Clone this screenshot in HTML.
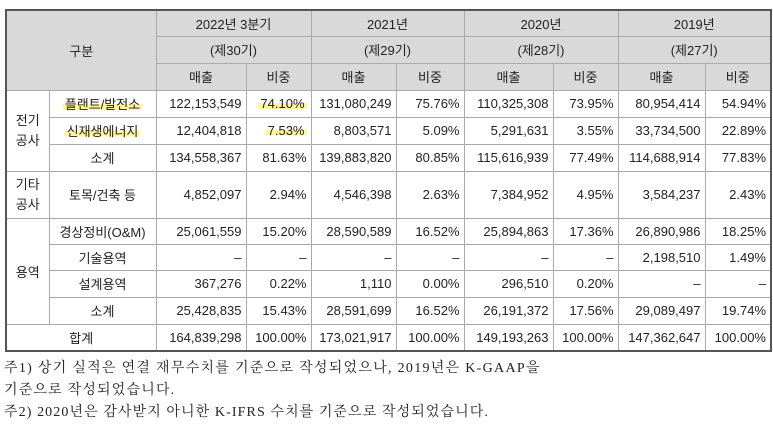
<!DOCTYPE html>
<html><head><meta charset="utf-8"><style>
body{margin:0;background:#fff;width:773px;height:424px;overflow:hidden;font-family:"Liberation Sans","Noto Sans CJK KR",sans-serif;}
table{position:absolute;left:5px;top:9px;border-collapse:collapse;table-layout:fixed;font-size:13px;color:#222;}
td{border:1px solid #aaa;padding:0 4px;white-space:nowrap;overflow:hidden;}
table{border:2px solid #555;}
.h td{background:#d9d9d9;text-align:center;}
.c{text-align:center}.r{text-align:right}
.hl{background:linear-gradient(transparent 45%,#fff59a 45%,#fff59a 85%,transparent 85%);padding:0 2px;}
.note{position:absolute;left:4px;font-family:"Liberation Serif","Noto Serif CJK KR","Noto Serif CJK SC",serif;font-size:14px;color:#222;letter-spacing:1.2px;white-space:nowrap;}
</style></head><body>
<table>
<colgroup><col style="width:43px"><col style="width:107px"><col style="width:90px"><col style="width:65px"><col style="width:85px"><col style="width:68px"><col style="width:89px"><col style="width:65px"><col style="width:87px"><col style="width:66px"></colgroup>
<tr class="h" style="height:26px"><td colspan="2" rowspan="3">구분</td><td colspan="2">2022년 3분기</td><td colspan="2">2021년</td><td colspan="2">2020년</td><td colspan="2">2019년</td></tr>
<tr class="h" style="height:27px"><td colspan="2">(제30기)</td><td colspan="2">(제29기)</td><td colspan="2">(제28기)</td><td colspan="2">(제27기)</td></tr>
<tr class="h" style="height:27px"><td>매출</td><td>비중</td><td>매출</td><td>비중</td><td>매출</td><td>비중</td><td>매출</td><td>비중</td></tr>
<tr style="height:27px"><td rowspan="3" class="c" style="line-height:20px">전기<br>공사</td><td class="c"><span class="hl">플랜트/발전소</span></td><td class="r">122,153,549</td><td class="r"><span class="hl">74.10%</span></td><td class="r">131,080,249</td><td class="r">75.76%</td><td class="r">110,325,308</td><td class="r">73.95%</td><td class="r">80,954,414</td><td class="r">54.94%</td></tr>
<tr style="height:27px"><td class="c"><span class="hl">신재생에너지</span></td><td class="r">12,404,818</td><td class="r"><span class="hl">7.53%</span></td><td class="r">8,803,571</td><td class="r">5.09%</td><td class="r">5,291,631</td><td class="r">3.55%</td><td class="r">33,734,500</td><td class="r">22.89%</td></tr>
<tr style="height:27px"><td class="c">소계</td><td class="r">134,558,367</td><td class="r">81.63%</td><td class="r">139,883,820</td><td class="r">80.85%</td><td class="r">115,616,939</td><td class="r">77.49%</td><td class="r">114,688,914</td><td class="r">77.83%</td></tr>
<tr style="height:47px"><td class="c" style="line-height:20px">기타<br>공사</td><td class="c">토목/건축 등</td><td class="r">4,852,097</td><td class="r">2.94%</td><td class="r">4,546,398</td><td class="r">2.63%</td><td class="r">7,384,952</td><td class="r">4.95%</td><td class="r">3,584,237</td><td class="r">2.43%</td></tr>
<tr style="height:26px"><td rowspan="4" class="c">용역</td><td class="c">경상정비(O&amp;M)</td><td class="r">25,061,559</td><td class="r">15.20%</td><td class="r">28,590,589</td><td class="r">16.52%</td><td class="r">25,894,863</td><td class="r">17.36%</td><td class="r">26,890,986</td><td class="r">18.25%</td></tr>
<tr style="height:26px"><td class="c">기술용역</td><td class="r">–</td><td class="r">–</td><td class="r">–</td><td class="r">–</td><td class="r">–</td><td class="r">–</td><td class="r">2,198,510</td><td class="r">1.49%</td></tr>
<tr style="height:27px"><td class="c">설계용역</td><td class="r">367,276</td><td class="r">0.22%</td><td class="r">1,110</td><td class="r">0.00%</td><td class="r">296,510</td><td class="r">0.20%</td><td class="r">–</td><td class="r">–</td></tr>
<tr style="height:27px"><td class="c">소계</td><td class="r">25,428,835</td><td class="r">15.43%</td><td class="r">28,591,699</td><td class="r">16.52%</td><td class="r">26,191,372</td><td class="r">17.56%</td><td class="r">29,089,497</td><td class="r">19.74%</td></tr>
<tr style="height:27px"><td colspan="2" class="c">합계</td><td class="r">164,839,298</td><td class="r">100.00%</td><td class="r">173,021,917</td><td class="r">100.00%</td><td class="r">149,193,263</td><td class="r">100.00%</td><td class="r">147,362,647</td><td class="r">100.00%</td></tr>
</table>
<div class="note" style="top:357px;letter-spacing:1.3px">주1) 상기 실적은 연결 재무수치를 기준으로 작성되었으나, 2019년은 K-GAAP을</div>
<div class="note" style="top:379px">기준으로 작성되었습니다.</div>
<div class="note" style="top:401px;letter-spacing:1.1px">주2) 2020년은 감사받지 아니한 K-IFRS 수치를 기준으로 작성되었습니다.</div>
</body></html>
